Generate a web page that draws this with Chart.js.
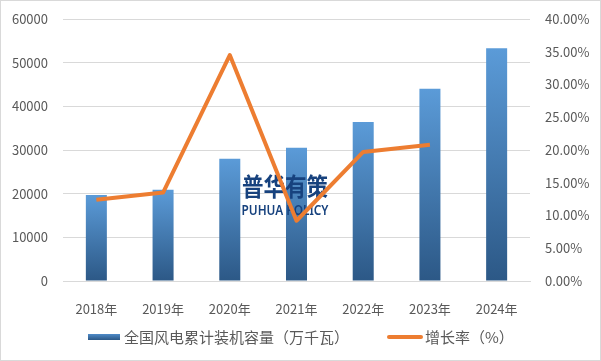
<!DOCTYPE html>
<html>
<head>
<meta charset="utf-8">
<script src="https://cdn.jsdelivr.net/npm/chart.js@4.4.1/dist/chart.umd.min.js"></script>
<style>
  html, body { margin: 0; padding: 0; background: #fff; }
  #wrap { width: 601px; height: 361px; }
</style>
</head>
<body>
<div id="wrap"><canvas id="chart" width="601" height="361"></canvas></div>
<script>
// data
const years = ['2018年', '2019年', '2020年', '2021年', '2022年', '2023年', '2024年'];
const capacity = [19700, 20900, 28000, 30500, 36400, 44000, 53300];
const growth = [12.4, 13.5, 34.5, 9.2, 19.7, 20.8, null];
const leftTicks = [0, 10000, 20000, 30000, 40000, 50000, 60000];
const rightTicks = [0, 5, 10, 15, 20, 25, 30, 35, 40];

const textColor = '#595959';
const fontFamily = '"Noto Sans CJK SC", "Noto Sans", sans-serif';

// gradient for each bar, light on top and dark at the bottom
function barFill(context) {
	const chart = context.chart;
	const y = chart.scales.y;
	if (!chart.chartArea || !y || context.raw == null) return '#4a86c5';
	const top = y.getPixelForValue(context.raw);
	const bottom = y.getPixelForValue(0);
	const g = chart.ctx.createLinearGradient(0, top, 0, bottom);
	g.addColorStop(0, '#5b9bd8');
	g.addColorStop(1, '#2c5886');
	return g;
}

// frame round the chart
const frame = {
	id: 'frame',
	beforeDraw(chart) {
		const ctx = chart.ctx;
		ctx.save();
		ctx.fillStyle = '#fff';
		ctx.fillRect(0, 0, chart.width, chart.height);
		ctx.strokeStyle = '#d9d9d9';
		ctx.lineWidth = 1;
		ctx.strokeRect(0.5, 0.5, chart.width - 1, chart.height - 1);
		ctx.restore();
	}
};

// watermark sits over the bars but under the line
const watermark = {
	id: 'watermark',
	afterDatasetDraw(chart, args) {
		if (args.index !== 0) return;
		const ctx = chart.ctx;
		ctx.save();
		ctx.fillStyle = '#17427e';
		ctx.textAlign = 'center';
		ctx.textBaseline = 'middle';
		ctx.font = 'bold 25px "Noto Sans CJK SC"';
		ctx.fillText('普华有策', 285, 186, 86);
		ctx.font = '600 15px "Noto Sans"';
		ctx.fillText('PUHUA POLICY', 285, 211, 87);
		ctx.restore();
	}
};

// legend drawn by hand: gradient box for the bars, short thick line for the rate
const legendBox = {
	id: 'legendBox',
	afterDraw(chart) {
		const ctx = chart.ctx;
		const ds = chart.data.datasets;
		const y = 337;
		ctx.save();
		ctx.font = '15px ' + fontFamily;
		ctx.textBaseline = 'middle';
		ctx.fillStyle = textColor;
		const w0 = ctx.measureText(ds[0].label).width;
		const w1 = ctx.measureText(ds[1].label).width;
		const total = 32 + 4 + w0 + 38 + 36 + 2 + w1;
		let x = Math.round((chart.width - total) / 2);
		const g = ctx.createLinearGradient(0, y - 3, 0, y + 3);
		g.addColorStop(0, '#4f8bc8');
		g.addColorStop(1, '#2c5886');
		ctx.fillStyle = g;
		ctx.fillRect(x, y - 3, 32, 6);
		x += 36;
		ctx.fillStyle = textColor;
		ctx.fillText(ds[0].label, x, y);
		x += w0 + 38;
		ctx.strokeStyle = '#ed7d31';
		ctx.lineWidth = 4;
		ctx.lineCap = 'round';
		ctx.beginPath();
		ctx.moveTo(x + 2, y);
		ctx.lineTo(x + 34, y);
		ctx.stroke();
		x += 38;
		ctx.fillText(ds[1].label, x, y);
		ctx.restore();
	}
};

// drop the label overhang so the layout padding alone sets the plot top
function fixY(width) {
	return function (scale) {
		scale.width = width;
		scale.paddingTop = 0;
		scale.paddingBottom = 0;
	};
}

const data = {
	labels: years,
	datasets: [{
		type: 'bar',
		label: '全国风电累计装机容量（万千瓦）',
		data: capacity,
		backgroundColor: barFill,
		categoryPercentage: 1,
		barPercentage: 0.315,
		yAxisID: 'y',
		order: 1
	},
	{
		type: 'line',
		label: '增长率（%）',
		data: growth,
		borderColor: '#ed7d31',
		backgroundColor: '#ed7d31',
		borderWidth: 4,
		pointRadius: 0,
		tension: 0,
		borderJoinStyle: 'round',
		yAxisID: 'y1',
		order: 0
	}]
};

Chart.defaults.font.family = fontFamily;
Chart.defaults.color = textColor;

const config = {
	data,
	options: {
		responsive: false,
		animation: false,
		layout: { padding: { top: 19, left: 0, right: 0, bottom: 44 } },
		plugins: {
			tooltip: { enabled: false },
			legend: { display: false }
		},
		scales: {
			x: {
				grid: { display: false },
				border: { color: '#d9d9d9' },
				ticks: { font: { size: 13 }, color: textColor, padding: 12 },
				afterFit(scale) { scale.height = 36; }
			},
			y: {
				position: 'left',
				min: 0,
				max: 60000,
				afterBuildTicks(scale) { scale.ticks = leftTicks.map(v => ({ value: v })); },
				grid: { color: '#d9d9d9', drawTicks: false },
				border: { display: false },
				ticks: { font: { size: 13 }, color: textColor, padding: 15, callback: v => String(v) },
				afterFit: fixY(63)
			},
			y1: {
				position: 'right',
				min: 0,
				max: 40,
				afterBuildTicks(scale) { scale.ticks = rightTicks.map(v => ({ value: v })); },
				grid: { display: false, drawTicks: false },
				border: { display: false },
				ticks: {
					font: { size: 13 },
					color: textColor,
					padding: 15,
					callback: v => v.toFixed(2) + '%'
				},
				afterFit: fixY(71)
			}
		}
	},
	plugins: [frame, watermark, legendBox]
};

new Chart(document.getElementById('chart'), config);
</script>
</body>
</html>
